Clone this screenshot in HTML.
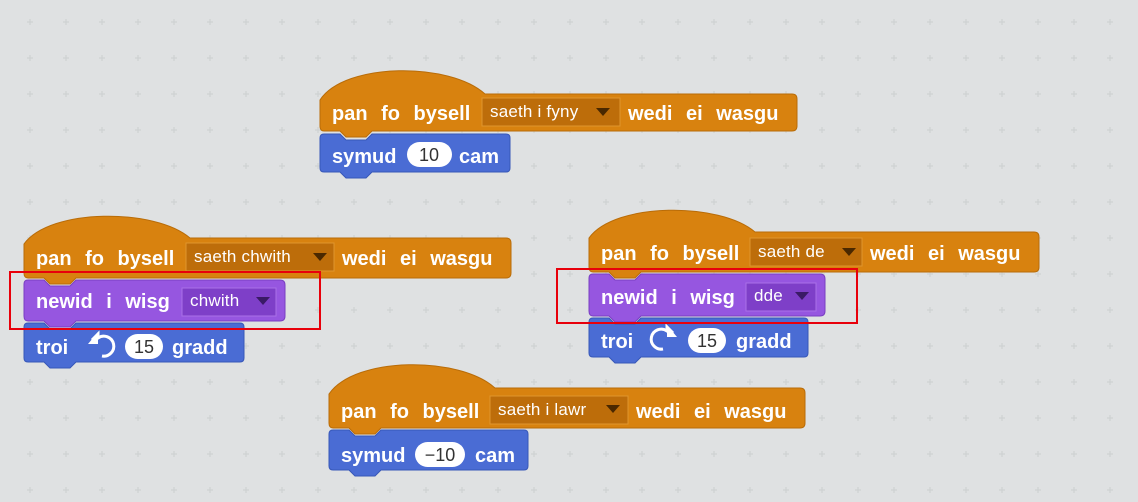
<!DOCTYPE html>
<html><head><style>
html,body{margin:0;padding:0;background:#dcdedf;}
svg{display:block}
text{font-family:"Liberation Sans",sans-serif;}
.t{fill:#fff;font-weight:bold;font-size:20px;word-spacing:8px;}
.d{fill:#fff;font-size:17px;letter-spacing:0.2px;}
.n{fill:#333;font-size:18px;text-anchor:middle;}
</style></head><body>
<svg width="1138" height="502" viewBox="0 0 1138 502" xmlns="http://www.w3.org/2000/svg">
<defs>
<pattern id="p" width="36" height="36" patternUnits="userSpaceOnUse" x="12" y="4">
<path d="M18 15v6M15 18h6" stroke="#cfd2d3" stroke-width="1.3"/>
</pattern>
</defs>
<rect width="1138" height="502" fill="#dfe1e2"/>
<rect width="1138" height="502" fill="url(#p)"/>

<!-- Block A -->
<path d="M320 100 C345 62,450 62,485 94 L792 94 Q797 94 797 99 L797 126 Q797 131 792 131 L372 131 L366 137 L346 137 L340 131 L324 131 Q320 131 320 126 Z" fill="#d8820f" stroke="#b96c08" stroke-width="1"/>
<rect x="482" y="98" width="138" height="28" fill="#bd6d0a" stroke="#e0952e"/>
<text class="t" x="332" y="120">pan fo bysell</text>
<text class="d" x="490" y="117">saeth i fyny</text>
<path d="M596 108h14l-7 8z" fill="#4a2800"/>
<text class="t" x="628" y="120">wedi ei wasgu</text>
<path d="M320 138 Q320 134 324 134 L340 134 L346 140 L366 140 L372 134 L506 134 Q510 134 510 138 L510 168 Q510 172 506 172 L372 172 L366 178 L346 178 L340 172 L324 172 Q320 172 320 168Z" fill="#4a6cd4" stroke="#3757b8"/>
<text class="t" x="332" y="163">symud</text>
<rect x="407" y="142" width="45" height="25" rx="12.5" fill="#fff"/>
<text class="n" x="429" y="161">10</text>
<text class="t" x="459" y="163">cam</text>

<!-- Block B -->
<path d="M24 244 C50 208,155 208,190 238 L506 238 Q511 238 511 243 L511 273 Q511 278 506 278 L76 278 L70 284 L50 284 L44 278 L28 278 Q24 278 24 273 Z" fill="#d8820f" stroke="#b96c08"/>
<rect x="186" y="243" width="148" height="28" fill="#bd6d0a" stroke="#e0952e"/>
<text class="t" x="36" y="265">pan fo bysell</text>
<text class="d" x="194" y="262">saeth chwith</text>
<path d="M313 253h14l-7 8z" fill="#4a2800"/>
<text class="t" x="342" y="265">wedi ei wasgu</text>
<path d="M24 284 Q24 280 28 280 L44 280 L50 286 L70 286 L76 280 L280 280 Q285 280 285 285 L285 316 Q285 321 280 321 L76 321 L70 327 L50 327 L44 321 L28 321 Q24 321 24 316Z" fill="#9656e0" stroke="#7a3fc2"/>
<rect x="182" y="288" width="94" height="28" fill="#7e3fc8" stroke="#a970e8"/>
<text class="t" x="36" y="308">newid i wisg</text>
<text class="d" x="190" y="306">chwith</text>
<path d="M256 297h14l-7 8z" fill="#3a1a66"/>
<path d="M24 327 Q24 323 28 323 L44 323 L50 329 L70 329 L76 323 L240 323 Q244 323 244 327 L244 358 Q244 362 240 362 L76 362 L70 368 L50 368 L44 362 L28 362 Q24 362 24 358Z" fill="#4a6cd4" stroke="#3757b8"/>
<text class="t" x="36" y="354">troi</text>
<path d="M92 340 l6 -6 v4 a10 10 0 1 1 4 18" fill="none" stroke="#fff" stroke-width="3"/>
<path d="M88 344 l10 -12 v12z" fill="#fff"/>
<rect x="125" y="334" width="38" height="25" rx="12.5" fill="#fff"/>
<text class="n" x="144" y="353">15</text>
<text class="t" x="172" y="354">gradd</text>
<rect x="10" y="272" width="310" height="57" fill="none" stroke="#e8000b" stroke-width="2"/>

<!-- Block C -->
<path d="M589 238 C615 202,720 202,755 232 L1034 232 Q1039 232 1039 237 L1039 267 Q1039 272 1034 272 L641 272 L635 278 L615 278 L609 272 L593 272 Q589 272 589 267 Z" fill="#d8820f" stroke="#b96c08"/>
<rect x="750" y="238" width="112" height="28" fill="#bd6d0a" stroke="#e0952e"/>
<text class="t" x="601" y="260">pan fo bysell</text>
<text class="d" x="758" y="257">saeth de</text>
<path d="M842 248h14l-7 8z" fill="#4a2800"/>
<text class="t" x="870" y="260">wedi ei wasgu</text>
<path d="M589 278 Q589 274 593 274 L609 274 L615 280 L635 280 L641 274 L820 274 Q825 274 825 279 L825 311 Q825 316 820 316 L641 316 L635 322 L615 322 L609 316 L593 316 Q589 316 589 311Z" fill="#9656e0" stroke="#7a3fc2"/>
<rect x="746" y="283" width="70" height="28" fill="#7e3fc8" stroke="#a970e8"/>
<text class="t" x="601" y="304">newid i wisg</text>
<text class="d" x="754" y="301">dde</text>
<path d="M795 292h14l-7 8z" fill="#3a1a66"/>
<path d="M589 322 Q589 318 593 318 L609 318 L615 324 L635 324 L641 318 L804 318 Q808 318 808 322 L808 353 Q808 357 804 357 L641 357 L635 363 L615 363 L609 357 L593 357 Q589 357 589 353Z" fill="#4a6cd4" stroke="#3757b8"/>
<text class="t" x="601" y="348">troi</text>
<path d="M673 333 l-6 -6 v4 a10 10 0 1 0 -4 18" fill="none" stroke="#fff" stroke-width="3"/>
<path d="M677 337 l-10 -12 v12z" fill="#fff"/>
<rect x="688" y="328" width="38" height="25" rx="12.5" fill="#fff"/>
<text class="n" x="707" y="347">15</text>
<text class="t" x="736" y="348">gradd</text>
<rect x="557" y="269" width="300" height="54" fill="none" stroke="#e8000b" stroke-width="2"/>

<!-- Block D -->
<path d="M329 394 C355 356,460 356,495 388 L800 388 Q805 388 805 393 L805 423 Q805 428 800 428 L381 428 L375 434 L355 434 L349 428 L333 428 Q329 428 329 423 Z" fill="#d8820f" stroke="#b96c08"/>
<rect x="490" y="396" width="138" height="28" fill="#bd6d0a" stroke="#e0952e"/>
<text class="t" x="341" y="418">pan fo bysell</text>
<text class="d" x="498" y="415">saeth i lawr</text>
<path d="M606 405h14l-7 8z" fill="#4a2800"/>
<text class="t" x="636" y="418">wedi ei wasgu</text>
<path d="M329 434 Q329 430 333 430 L349 430 L355 436 L375 436 L381 430 L524 430 Q528 430 528 434 L528 466 Q528 470 524 470 L381 470 L375 476 L355 476 L349 470 L333 470 Q329 470 329 466Z" fill="#4a6cd4" stroke="#3757b8"/>
<text class="t" x="341" y="462">symud</text>
<rect x="415" y="442" width="50" height="25" rx="12.5" fill="#fff"/>
<text class="n" x="440" y="461">−10</text>
<text class="t" x="475" y="462">cam</text>
</svg>
</body></html>
